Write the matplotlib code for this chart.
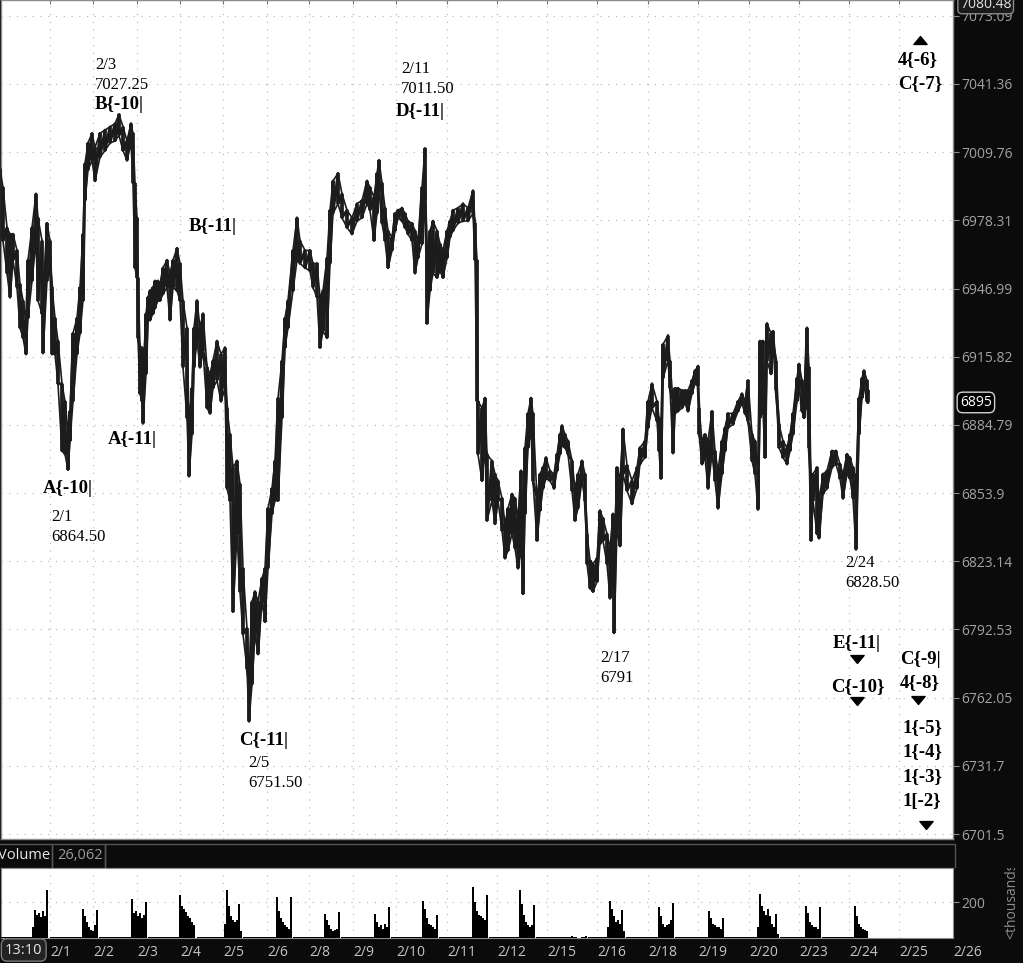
import numpy as np
import matplotlib.pyplot as plt
from matplotlib.path import Path
from matplotlib.ticker import FixedLocator, FixedFormatter, NullLocator, NullFormatter

W, H = 1023, 963

# ---- price bars: (bar index, high, low) ----
week1_bars = [
    (0, 7002, 6975), (3, 6993.5, 6969), (7, 6975, 6954), (10, 6972, 6943), (13, 6972, 6960),
    (17, 6964.5, 6947.5), (20, 6949, 6929), (23, 6941.5, 6924.5), (26, 6932.5, 6917), (28, 6960, 6933.5),
    (32, 6975, 6950.5), (36, 6990.5, 6969), (38, 6979.5, 6941.5), (42, 6969, 6935.5), (43, 6941.5, 6917.5),
    (47, 6977, 6950.5), (50, 6969, 6956.5), (52, 6947.5, 6917), (55, 6933.5, 6917), (58, 6923, 6903.5),
    (62, 6903.5, 6873), (65, 6895.5, 6871.5), (68, 6882, 6864.5), (70, 6891, 6877.5), (73, 6926.5, 6895.5),
    (77, 6933.5, 6917), (80, 6947.5, 6926.5), (83, 6972, 6941.5), (85, 7004.5, 6987.5), (88, 7014, 7001.5),
    (92, 7018.5, 7006), (95, 7012, 6996.5), (100, 7018.5, 7007.5), (105, 7020, 7010.5), (110, 7021.5, 7014),
    (115, 7023, 7015), (119, 7027.25, 7017.5), (123, 7021.5, 7010.5), (127, 7015, 7006), (131, 7023, 7014),
    (133, 7018.5, 6995.5), (135, 6995.5, 6956.5), (137, 6979.5, 6952), (138, 6952, 6924.5), (140, 6920, 6899),
    (142, 6920, 6895.5), (143, 6905, 6885.5), (146, 6935.5, 6908), (148, 6943, 6932.5), (150, 6946, 6932.5),
    (153, 6947.5, 6935.5), (155, 6950.5, 6938), (158, 6950.5, 6941.5), (160, 6949, 6941.5), (163, 6956.5, 6944.5),
    (167, 6960, 6947.5), (170, 6954, 6932.5), (173, 6960, 6947.5), (177, 6965.5, 6946), (180, 6958.5, 6941.5),
    (183, 6941.5, 6911), (187, 6929, 6888), (189, 6886.5, 6861.5), (192, 6901.5, 6880.5), (194, 6929, 6911),
    (197, 6941.5, 6923), (200, 6929, 6911), (203, 6935.5, 6918.5), (207, 6911, 6892.5), (210, 6908, 6890),
    (213, 6914, 6901.5), (217, 6923, 6905), (221, 6917, 6895.5), (225, 6920, 6901.5), (227, 6892.5, 6856),
    (230, 6880.5, 6850.5), (233, 6865.5, 6800.5), (237, 6868.5, 6835.5), (240, 6858, 6809.5), (243, 6820, 6790.5),
    (247, 6793, 6775), (249, 6769.5, 6751.5), (252, 6805, 6768), (255, 6809.5, 6790.5), (258, 6805, 6781.5),
    (262, 6815.5, 6805), (265, 6820, 6796), (268, 6847, 6820), (272, 6856, 6844.5), (275, 6868.5, 6850.5),
    (278, 6897, 6850.5), (282, 6914, 6888), (285, 6933.5, 6920), (288, 6941.5, 6929), (293, 6964.5, 6946),
    (297, 6979.5, 6960), (300, 6969, 6958.5),
]
week2_bars = [
    (305, 6964.5, 6956.5), (310, 6964.5, 6955), (313, 6958.5, 6947.5), (317, 6958.5, 6943), (320, 6943, 6920),
    (323, 6946, 6927.5), (327, 6961, 6924.5), (330, 6983, 6958.5), (333, 6996.5, 6981.5), (338, 7000, 6986),
    (342, 6990.5, 6979.5), (347, 6983, 6975), (352, 6979.5, 6972), (357, 6986, 6978), (362, 6987.5, 6979.5),
    (367, 6996.5, 6986), (370, 6993.5, 6983), (374, 6989, 6969), (377, 7000, 6981.5), (379, 7006, 6992),
    (382, 6995.5, 6977), (385, 6984, 6969), (388, 6973.5, 6956.5), (392, 6970.5, 6964.5), (395, 6981.5, 6973.5),
    (398, 6983, 6979.5), (402, 6984, 6978), (405, 6981.5, 6975), (408, 6978, 6972), (412, 6977, 6969),
    (415, 6973.5, 6954), (418, 6969, 6961), (422, 6993.5, 6967.5), (425, 7011.5, 6987.5), (427, 6961, 6931),
    (430, 6973.5, 6946), (433, 6978, 6954), (437, 6973.5, 6952), (440, 6967.5, 6955), (443, 6964.5, 6952),
    (447, 6973.5, 6961), (450, 6978, 6970.5), (453, 6983, 6973.5), (458, 6984, 6977), (463, 6986, 6978),
    (468, 6984, 6978), (473, 6992, 6981.5), (475, 6977, 6960), (477, 6960, 6895.5), (478, 6895.5, 6871.5),
]
week3_bars = [
    (482, 6892.5, 6859.5), (485, 6897, 6874.5), (487, 6871.5, 6841.5), (492, 6868.5, 6850.5), (495, 6862.5, 6840),
    (498, 6859.5, 6850.5), (502, 6851.5, 6837), (505, 6840, 6824.5), (508, 6847, 6828), (512, 6853.5, 6835.5),
    (515, 6851.5, 6829), (518, 6842.5, 6820), (521, 6864, 6829), (523, 6841.5, 6808.5), (525, 6874.5, 6844.5),
    (528, 6890, 6874.5), (531, 6897, 6882), (533, 6890, 6859.5), (537, 6851.5, 6832.5), (540, 6862.5, 6846),
    (543, 6865.5, 6856), (546, 6870, 6860.5), (550, 6864, 6859.5), (554, 6862.5, 6856), (557, 6871.5, 6864),
    (560, 6880.5, 6871.5), (562, 6884.5, 6875.5), (565, 6880.5, 6874.5), (568, 6877.5, 6871.5), (572, 6868.5, 6855),
    (575, 6856, 6841.5), (578, 6862.5, 6847), (582, 6868.5, 6859.5), (585, 6862.5, 6850.5), (587, 6835.5, 6822),
    (590, 6823.5, 6811), (593, 6822, 6809.5), (597, 6824.5, 6814), (600, 6846, 6831), (603, 6842.5, 6832.5),
    (607, 6835.5, 6822), (610, 6829, 6806.5), (613, 6844.5, 6817.5), (614, 6823.5, 6791), (617, 6865.5, 6837),
    (620, 6860, 6830), (623, 6883, 6862.5), (627, 6866.5, 6855), (632, 6859.5, 6849), (637, 6865.5, 6856),
    (640, 6874.5, 6867), (645, 6877.5, 6870), (648, 6895.5, 6883.5), (652, 6903.5, 6892.5), (657, 6895.5, 6886.5),
    (659, 6888, 6873), (661, 6882, 6860.5), (663, 6921.5, 6906), (668, 6925.5, 6914), (670, 6914, 6901.5),
    (673, 6895.5, 6872), (675, 6901.5, 6890), (678, 6901.5, 6891), (682, 6900.5, 6892.5), (685, 6900.5, 6894.5),
    (688, 6900.5, 6891), (692, 6905, 6899), (695, 6909.5, 6903.5), (698, 6911.5, 6902.5), (699, 6892.5, 6880.5),
    (702, 6877.5, 6867), (705, 6880.5, 6870), (708, 6877.5, 6856), (712, 6891, 6871.5), (715, 6873, 6859.5),
    (718, 6864, 6847), (722, 6877.5, 6862.5), (725, 6883.5, 6873), (728, 6890, 6883.5), (733, 6890, 6885),
    (738, 6895.5, 6891), (742, 6899, 6894.5), (745, 6895.5, 6890), (748, 6905, 6886.5), (752, 6880.5, 6868.5),
    (755, 6877.5, 6862.5), (758, 6864, 6846.5), (760, 6923, 6888), (763, 6923, 6891), (765, 6895.5, 6870),
    (767, 6931, 6914), (771, 6926.5, 6908), (773, 6927.5, 6921.5), (776, 6914, 6900.5), (779, 6885, 6874.5),
    (783, 6877.5, 6870), (787, 6874.5, 6867), (790, 6880.5, 6873), (793, 6890, 6880.5), (797, 6906, 6895.5),
    (799, 6912.5, 6901.5), (802, 6905, 6891), (804, 6897, 6888), (807, 6929, 6895.5), (809, 6911, 6874.5),
    (811, 6859.5, 6832.5), (813, 6862.5, 6850.5), (817, 6865.5, 6835.5), (819, 6850.5, 6833.5), (823, 6862.5, 6853.5),
    (827, 6864, 6856), (832, 6873, 6865.5), (836, 6873, 6867), (840, 6867, 6860.5), (843, 6862.5, 6851.5),
    (847, 6871.5, 6862.5), (850, 6870, 6860.5), (853, 6865.5, 6851.5), (856, 6859.5, 6828.5), (859, 6897, 6880.5),
    (862, 6906, 6897), (864, 6909.5, 6902.5), (867, 6905, 6895.5), (868, 6900.5, 6895),
]
last_price = 6895

# ---- volume (thousands): session start bar and bar volumes ----
vol_starts = [33, 83, 132, 180, 225, 277, 325, 375, 423, 473, 520, 572, 608, 659, 709, 758, 806, 855]
vol_sessions = [
    [60, 158, 130, 140, 115, 150, 120, 264],
    [161, 120, 90, 60, 45, 40, 70, 157],
    [219, 140, 150, 120, 140, 110, 130, 199],
    [241, 180, 160, 145, 120, 110, 90, 70],
    [80, 265, 180, 120, 100, 90, 100, 188, 40],
    [230, 150, 110, 90, 70, 60, 50, 230],
    [134, 100, 70, 50, 40, 45, 50, 143],
    [134, 90, 60, 70, 50, 80, 60, 170],
    [203, 160, 110, 80, 70, 60, 50, 130],
    [281, 200, 150, 130, 120, 110, 100, 241],
    [265, 190, 130, 90, 70, 60, 70, 182],
    [10, 8, 6, 0, 0, 5, 8, 10],
    [60, 204, 160, 120, 90, 100, 80, 157, 40],
    [175, 120, 80, 60, 70, 80, 100, 193],
    [149, 110, 80, 70, 60, 60, 50, 112],
    [60, 246, 180, 150, 130, 160, 120, 80, 60, 134, 20],
    [178, 140, 90, 70, 60, 60, 50, 170],
    [178, 120, 80, 60, 50, 42, 40],
]
overnight = [(0, 33, 6), (50, 82, 5), (99, 131, 6), (148, 179, 5), (197, 224, 6), (243, 276, 7),
             (293, 324, 5), (341, 374, 5), (391, 422, 6), (439, 472, 5), (489, 519, 7), (536, 571, 4),
             (588, 607, 5), (626, 658, 5), (675, 708, 5), (724, 757, 6), (780, 805, 5), (822, 854, 6)]

day_ticks = [50, 93, 137, 180, 223, 267, 309, 353, 396, 447, 497, 547, 597, 648, 698, 749, 799, 849, 899, 953]
day_labels = ['2/1', '2/2', '2/3', '2/4', '2/5', '2/6', '2/8', '2/9', '2/10', '2/11', '2/12',
              '2/15', '2/16', '2/18', '2/19', '2/20', '2/23', '2/24', '2/25', '2/26']
price_ticks = [7073.09, 7041.36, 7009.76, 6978.31, 6946.99, 6915.82, 6884.79,
               6853.9, 6823.14, 6792.53, 6762.05, 6731.7, 6701.5]
price_tick_labels = ['7073.09', '7041.36', '7009.76', '6978.31', '6946.99', '6915.82', '6884.79',
                     '6853.9', '6823.14', '6792.53', '6762.05', '6731.7', '6701.5']
price_top, price_bottom = 7080.48, 6699.3

ink = '#1c1c1c'
grid_kw = dict(color='#b4b4b4', linestyle=(0, (1, 6)), linewidth=0.8)
serif = ['Liberation Serif', 'DejaVu Serif']
sans = ['Open Sans', 'DejaVu Sans']

fig = plt.figure(figsize=(W / 100, H / 100), dpi=100, facecolor='#0b0b0b')

# ---------------- main price panel ----------------
ax = fig.add_axes([1 / W, (H - 839) / H, 952 / W, 839 / H])
ax.set_facecolor('white')
bars = week1_bars + week2_bars + week3_bars
t = np.array([b[0] for b in bars], dtype=float)
hi = np.array([b[1] for b in bars])
lo = np.array([b[2] for b in bars])
# bar-to-bar trace: high then low of every bar, plus each bar's range
ax.plot(np.repeat(t, 2), np.column_stack([hi, lo]).ravel(), color=ink, lw=2.0, zorder=3)
ax.plot(t, hi, color=ink, lw=1.2, zorder=3)
ax.plot(t, lo, color=ink, lw=1.2, zorder=3)
ax.vlines(t, lo, hi, color=ink, lw=2.6, zorder=3)

ax.set_yscale('log')
ax.set_ylim(price_bottom, price_top)
ax.set_xlim(1, 953)
ax.yaxis.set_major_locator(FixedLocator(price_ticks))
ax.yaxis.set_major_formatter(FixedFormatter(price_tick_labels))
ax.yaxis.set_minor_locator(NullLocator())
ax.yaxis.set_minor_formatter(NullFormatter())
ax.yaxis.tick_right()
ax.tick_params(axis='y', length=4, color='#8a8a8a', labelcolor='#a2a2a2', labelsize=10, pad=2)
for lab in ax.get_yticklabels():
    lab.set_family(sans)
ax.set_xticks(day_ticks)
ax.tick_params(axis='x', bottom=False, top=True, direction='in', length=3, color='#777777',
               labelbottom=False, labeltop=False)
ax.grid(True, **grid_kw)
ax.set_axisbelow(True)
for side in ['left', 'right', 'top', 'bottom']:
    ax.spines[side].set_color('#8c8c8c')
    ax.spines[side].set_linewidth(1)

# wave labels
bold_labels = [
    (95, 7031.9, 'B{-10|'), (189, 6975.4, 'B{-11|'), (108, 6878.0, 'A{-11|'), (43, 6856.2, 'A{-10|'),
    (239, 6743.0, 'C{-11|'), (396, 7028.7, 'D{-11|'), (833, 6786.4, 'E{-11|'), (831, 6767.1, 'C{-10}'),
    (900, 6779.2, 'C{-9|'), (900, 6768.9, '4{-8}'), (903, 6748.8, '1{-5}'), (903, 6738.2, '1{-4}'),
    (903, 6727.0, '1{-3}'), (903, 6715.9, '1[-2}'), (898, 7052.9, '4{-6}'), (898, 7041.7, 'C{-7}'),
]
pivot_labels = [
    (95, 7050.1, '2/3'), (95, 7040.8, '7027.25'), (401, 7048.3, '2/11'), (401, 7038.9, '7011.50'),
    (51, 6843.1, '2/1'), (51, 6834.1, '6864.50'), (248, 6732.8, '2/5'), (248, 6723.9, '6751.50'),
    (600, 6779.7, '2/17'), (600, 6770.7, '6791'), (845, 6822.4, '2/24'), (845, 6813.3, '6828.50'),
]
for x, y, s in bold_labels:
    ax.text(x, y, s, family=serif, fontsize=13.5, fontweight='bold', color='black',
            ha='left', va='center', zorder=5)
for x, y, s in pivot_labels:
    ax.text(x, y, s, family=serif, fontsize=12, color='black', ha='left', va='center', zorder=5)

tri_down = Path([(-1, 0.6), (1, 0.6), (0, -0.6), (-1, 0.6)],
                [Path.MOVETO, Path.LINETO, Path.LINETO, Path.CLOSEPOLY])
tri_up = Path([(-1, -0.6), (1, -0.6), (0, 0.6), (-1, -0.6)],
              [Path.MOVETO, Path.LINETO, Path.LINETO, Path.CLOSEPOLY])
down_x = [857, 857, 918, 926]
down_y = [6779.2, 6760.4, 6760.8, 6705.7]
ax.plot(down_x, down_y, linestyle='none', marker=tri_down, markersize=9.5, color='black', zorder=5)
ax.plot([920], [7061.8], linestyle='none', marker=tri_up, markersize=9.5, color='black', zorder=5)

# price flags on right axis
ax.annotate('7080.48', xy=(1, price_top), xycoords=('axes fraction', 'data'), xytext=(5, -3),
            textcoords='offset points', ha='left', va='center', fontsize=10, family=sans,
            color='#e2e2e2', annotation_clip=False, zorder=6,
            bbox=dict(boxstyle='round,pad=0.15,rounding_size=0.3', fc='#1a1a1a', ec='#8a8a8a', lw=1))
ax.annotate(f'{last_price}', xy=(1, last_price), xycoords=('axes fraction', 'data'), xytext=(5, 0),
            textcoords='offset points', ha='left', va='center', fontsize=10, family=sans,
            color='white', annotation_clip=False,
            bbox=dict(boxstyle='round,pad=0.2,rounding_size=0.4', fc='black', ec='#d0d0d0', lw=1))

# ---------------- volume panel ----------------
axv = fig.add_axes([1 / W, 25 / H, 952 / W, 70 / H])
axv.set_facecolor('white')
for start, vols in zip(vol_starts, vol_sessions):
    xs = start + 2 * np.arange(len(vols))
    axv.bar(xs, vols, width=2.1, color='black', linewidth=0, zorder=3)
for a, b, v in overnight:
    axv.bar(a, v, width=b - a, align='edge', color='black', linewidth=0, zorder=3)
axv.set_xlim(1, 953)
axv.set_ylim(0, 389)
axv.set_xticks(day_ticks)
axv.set_xticklabels(day_labels, ha='left', family=sans)
axv.tick_params(axis='x', length=0, pad=5, labelcolor='#c4c4c4', labelsize=10)
axv.yaxis.tick_right()
axv.set_yticks([200])
axv.tick_params(axis='y', length=4, color='#8a8a8a', labelcolor='#a2a2a2', labelsize=10, pad=2)
for lab in axv.get_yticklabels():
    lab.set_family(sans)
axv.grid(True, **grid_kw)
axv.set_axisbelow(True)
for side in ['left', 'right', 'top', 'bottom']:
    axv.spines[side].set_color('#8c8c8c')
axv.text(1.062, -0.02, '<thousands>', transform=axv.transAxes, rotation=90, ha='center',
         va='bottom', fontsize=10, family=sans, color='#8c8c8c', clip_on=False)

# ---------------- volume header strip ----------------
hdr = fig.add_axes([0, (H - 868) / H, 1, 26 / H])
hdr.set_facecolor('#0b0b0b')
hdr.set_xlim(0, W)
hdr.set_ylim(0, 26)
hdr.set_xticks([])
hdr.set_yticks([])
for side in hdr.spines:
    hdr.spines[side].set_visible(False)
hdr.add_patch(plt.Rectangle((-5, 0.5), 57, 24, fill=False, ec='#555555', lw=1))
hdr.add_patch(plt.Rectangle((52, 0.5), 53, 24, fill=False, ec='#555555', lw=1))
hdr.add_patch(plt.Rectangle((105, 0.5), 850, 24, fill=False, ec='#555555', lw=1))
hdr.text(-2, 12.5, 'Volume', ha='left', va='center', fontsize=10.5, family=sans, color='#e8e8e8')
hdr.text(57, 12.5, '26,062', ha='left', va='center', fontsize=10.5, family=sans, color='#9a9a9a')

# time badge
fig.text(5 / W, 1 - 950 / H, '13:10', ha='left', va='center', fontsize=10.5, family=sans,
         color='#e8e8e8',
         bbox=dict(boxstyle='round,pad=0.25,rounding_size=0.4', fc='#222222', ec='#7a7a7a', lw=1))

fig.savefig('out.png', dpi=100, facecolor=fig.get_facecolor())
